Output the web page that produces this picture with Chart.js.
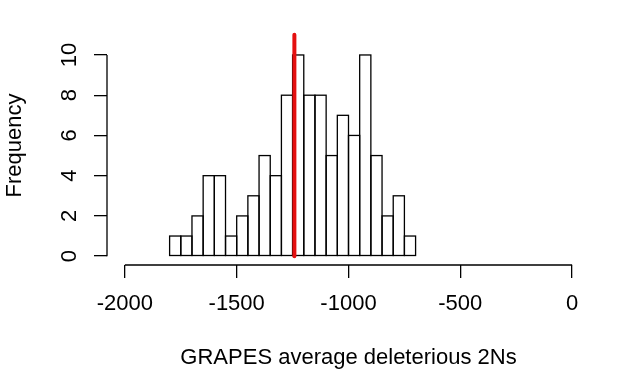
<!DOCTYPE html>
<html>
<head>
<meta charset="utf-8">
<script src="https://cdn.jsdelivr.net/npm/chart.js@4"></script>
<style>
  html, body { margin: 0; padding: 0; background: #fff; }
  #wrap { width: 617px; height: 372px; }
</style>
</head>
<body>
<div id="wrap"><canvas id="c" width="617" height="372"></canvas></div>
<script>
// Histogram bins (start values, width 50) and counts
const binStarts = [-1800,-1750,-1700,-1650,-1600,-1550,-1500,-1450,-1400,-1350,-1300,-1250,-1200,-1150,-1100,-1050,-1000,-950,-900,-850,-800,-750];
const binWidth = 50;
const counts = [1,1,2,4,4,1,2,3,5,4,8,10,8,8,5,7,6,10,5,2,3,1];
const xTicks = [-2000,-1500,-1000,-500,0];
const yTicks = [0,2,4,6,8,10];
const markerValue = -1242;
const markerTop = 11;

const FONT = "'Liberation Sans', Arial, sans-serif";
const FS = 22;

const barData = binStarts.map((s, i) => ({ x: s + binWidth / 2, y: counts[i] }));

const rStyle = {
  id: 'rStyle',
  afterDatasetDraw(chart, args) {
    const ctx = chart.ctx;
    if (args.index === 1) {
      // outline histogram bars with centred strokes (like R's rect)
      const meta = chart.getDatasetMeta(1);
      ctx.save();
      ctx.strokeStyle = '#000';
      ctx.lineWidth = 1.3;
      meta.data.forEach(el => {
        const p = el.getProps(['x', 'y', 'base', 'width'], true);
        ctx.strokeRect(p.x - p.width / 2, p.y, p.width, p.base - p.y);
      });
      ctx.restore();
    }
  },
  afterDatasetsDraw(chart) {
    const ctx = chart.ctx;
    const xs = chart.scales.x, ys = chart.scales.y;
    const ca = chart.chartArea;
    ctx.save();
    ctx.strokeStyle = '#000';
    ctx.lineWidth = 1.3;
    ctx.beginPath();
    ctx.moveTo(xs.getPixelForValue(xTicks[0]), ca.bottom);
    ctx.lineTo(xs.getPixelForValue(xTicks[xTicks.length - 1]), ca.bottom);
    ctx.moveTo(ca.left, ys.getPixelForValue(yTicks[0]));
    ctx.lineTo(ca.left, ys.getPixelForValue(yTicks[yTicks.length - 1]));
    ctx.stroke();
    ctx.restore();
  }
};

new Chart(document.getElementById('c'), {
  data: {
    datasets: [
      {
        type: 'line',
        data: [{ x: markerValue, y: 0 }, { x: markerValue, y: markerTop }],
        borderColor: 'rgb(228,16,16)',
        borderWidth: 4,
        borderCapStyle: 'round',
        pointRadius: 0,
        order: 0
      },
      {
        type: 'bar',
        data: barData,
        backgroundColor: '#ffffff',
        borderWidth: 0,
        barPercentage: 1,
        categoryPercentage: 1,
        order: 1
      }
    ]
  },
  options: {
    responsive: false,
    animation: false,
    layout: { padding: { top: 26, right: 27, left: 0, bottom: 0 } },
    plugins: { legend: { display: false }, tooltip: { enabled: false } },
    scales: {
      x: {
        type: 'linear',
        min: -2080,
        max: 80,
        offset: false,
        afterBuildTicks: (s) => { s.ticks = xTicks.map(v => ({ value: v })); },
        afterFit: (s) => { s.height = 107; },
        border: { display: false },
        grid: { offset: false, drawOnChartArea: false, drawTicks: true, tickLength: 13, color: '#000', lineWidth: 1.3 },
        ticks: { color: '#000', font: { family: FONT, size: FS }, padding: 13, maxRotation: 0, autoSkip: false,
                 callback: (v) => String(v) },
        title: { display: true, text: 'GRAPES average deleterious 2Ns', color: '#000', font: { family: FONT, size: FS }, padding: { top: 0, bottom: 1 } }
      },
      y: {
        type: 'linear',
        min: -0.44,
        max: 11.44,
        afterBuildTicks: (s) => { s.ticks = yTicks.map(v => ({ value: v })); },
        afterFit: (s) => { s.width = 107; },
        border: { display: false },
        grid: { drawOnChartArea: false, drawTicks: true, tickLength: 13, color: '#000', lineWidth: 1.3 },
        ticks: { color: '#000', font: { family: FONT, size: FS }, padding: 12, minRotation: 90, maxRotation: 90, crossAlign: 'center', autoSkip: false,
                 callback: (v) => String(v) },
        title: { display: true, text: 'Frequency', color: '#000', font: { family: FONT, size: FS }, padding: { top: 2, bottom: 0 } }
      }
    }
  },
  plugins: [rStyle]
});
</script>
</body>
</html>
